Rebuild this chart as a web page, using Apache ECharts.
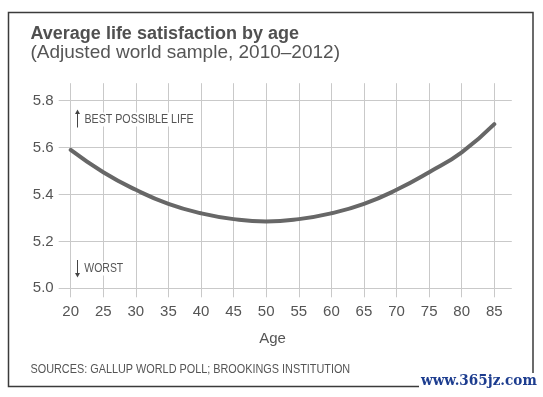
<!DOCTYPE html>
<html>
<head>
<meta charset="utf-8">
<title>Average life satisfaction by age</title>
<script src="https://cdn.jsdelivr.net/npm/echarts@6/dist/echarts.min.js"></script>
<style>
  html, body { margin: 0; padding: 0; background: #ffffff; }
  #chart { width: 543px; height: 397px; }
</style>
</head>
<body>
<div id="chart"></div>
<script>
  // data
  const ages = ['20', '25', '30', '35', '40', '45', '50', '55', '60', '65', '70', '75', '80', '85'];
  const satisfaction = [5.59, 5.495, 5.42, 5.36, 5.32, 5.295, 5.285, 5.295, 5.32, 5.36, 5.42, 5.495, 5.58, 5.70];
  const yMin = 5.0;
  const yMax = 5.8;
  const yStep = 0.2;

  const gridColor = '#c9c9c9';
  const textColor = '#555555';
  const baseFont = '"Liberation Sans", Arial, sans-serif';

  let chart = echarts.init(document.getElementById('chart'), null, { renderer: 'canvas' });

  let option = {
    backgroundColor: '#ffffff',
    animation: false,
    grid: {
      left: 70.7,
      right: 48.7,
      top: 100.7,
      bottom: 108.7
    },
    xAxis: [
      {
        type: 'category',
        data: ages,
        boundaryGap: false,
        axisLine: { show: false },
        axisTick: { show: true, length: 9, lineStyle: { color: gridColor } },
        splitLine: { show: true, lineStyle: { color: gridColor, width: 1 } },
        axisLabel: { margin: 16, fontSize: 15, color: textColor, fontFamily: baseFont },
        name: 'Age',
        nameLocation: 'middle',
        nameGap: 43,
        nameTextStyle: { fontSize: 15, color: textColor, fontFamily: baseFont, padding: [0, 20, 0, 0] }
      },
      {
        // only used to stretch the vertical grid lines above the plot
        type: 'category',
        data: ages,
        position: 'top',
        boundaryGap: false,
        axisLine: { show: false },
        axisTick: { show: true, length: 17.5, lineStyle: { color: gridColor } },
        axisLabel: { show: false },
        splitLine: { show: false }
      }
    ],
    yAxis: [
      {
        type: 'value',
        min: yMin,
        max: yMax,
        interval: yStep,
        axisLine: { show: false },
        axisTick: { show: true, length: 12, lineStyle: { color: gridColor } },
        splitLine: { show: true, lineStyle: { color: gridColor, width: 1 } },
        axisLabel: {
          margin: 17,
          fontSize: 15,
          color: textColor,
          fontFamily: baseFont,
          formatter: function (v) { return v.toFixed(1); }
        }
      },
      {
        // only used to stretch the horizontal grid lines to the right
        type: 'value',
        position: 'right',
        min: yMin,
        max: yMax,
        interval: yStep,
        axisLine: { show: false },
        axisTick: { show: true, length: 17.5, lineStyle: { color: gridColor } },
        splitLine: { show: false },
        axisLabel: { show: false }
      }
    ],
    series: [
      {
        type: 'line',
        data: satisfaction,
        smooth: true,
        symbol: 'none',
        lineStyle: { color: '#676767', width: 4, cap: 'round' }
      }
    ],
    graphic: [
      {
        type: 'rect',
        shape: { x: 8.5, y: 12.5, width: 524.5, height: 374 },
        style: { fill: 'none', stroke: '#3b3b3b', lineWidth: 1.5 },
        z: 1
      },
      {
        type: 'text', x: 30.5, y: 34.5, z: 10,
        style: {
          text: 'Average life satisfaction by age', fill: '#505050',
          font: 'bold 18px ' + baseFont, verticalAlign: 'middle'
        }
      },
      {
        type: 'text', x: 30.5, y: 53, z: 10,
        style: {
          text: '(Adjusted world sample, 2010\u20132012)', fill: textColor,
          font: '19px ' + baseFont, verticalAlign: 'middle'
        }
      },
      // up arrow + label
      {
        type: 'line', z: 10,
        shape: { x1: 77.5, y1: 113, x2: 77.5, y2: 127.5 },
        style: { stroke: '#444444', lineWidth: 1 }
      },
      {
        type: 'polygon', z: 10,
        shape: { points: [[75, 114], [80, 114], [77.5, 109.5]] },
        style: { fill: '#444444' }
      },
      {
        type: 'text', x: 83.5, y: 119.5, z: 10, scaleX: 0.89,
        style: {
          text: 'BEST POSSIBLE LIFE', fill: textColor, font: '12px ' + baseFont,
          verticalAlign: 'middle', backgroundColor: '#ffffff', padding: [1, 1, 1, 1]
        }
      },
      // down arrow + label
      {
        type: 'line', z: 10,
        shape: { x1: 77.5, y1: 260, x2: 77.5, y2: 274 },
        style: { stroke: '#444444', lineWidth: 1 }
      },
      {
        type: 'polygon', z: 10,
        shape: { points: [[75, 273], [80, 273], [77.5, 277.5]] },
        style: { fill: '#444444' }
      },
      {
        type: 'text', x: 83.5, y: 268.5, z: 10, scaleX: 0.87,
        style: {
          text: 'WORST', fill: textColor, font: '12px ' + baseFont,
          verticalAlign: 'middle', backgroundColor: '#ffffff', padding: [1, 1, 1, 1]
        }
      },
      {
        type: 'text', x: 30.5, y: 369, z: 10, scaleX: 0.835,
        style: {
          text: 'SOURCES: GALLUP WORLD POLL; BROOKINGS INSTITUTION', fill: textColor,
          font: '13px ' + baseFont, verticalAlign: 'middle'
        }
      },
      {
        type: 'text', x: 419, y: 381.5, z: 20, scaleX: 0.97,
        style: {
          text: 'www.365jz.com', fill: '#1d3d8f', font: 'bold 14px "DejaVu Serif", serif',
          verticalAlign: 'middle', backgroundColor: '#ffffff', padding: [1, 2, 2, 2]
        }
      }
    ]
  };

  if (option && typeof option === 'object') {
    chart.setOption(option, true);
  }
  window.addEventListener('resize', function () {
    chart.resize();
  });
</script>
</body>
</html>
